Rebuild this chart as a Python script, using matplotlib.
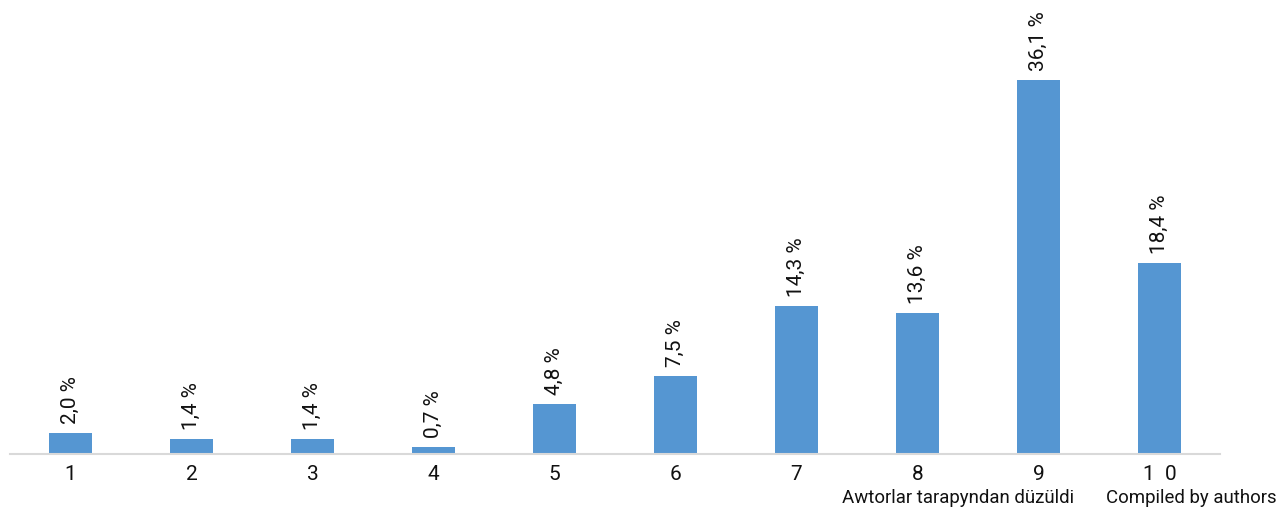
import numpy as np
import matplotlib.pyplot as plt

plt.rcParams['font.family'] = ['Roboto', 'DejaVu Sans']

categories = ['1', '2', '3', '4', '5', '6', '7', '8', '9', '1  0']
values = [2.0, 1.4, 1.4, 0.7, 4.8, 7.5, 14.3, 13.6, 36.1, 18.4]
labels = ['2,0 %', '1,4 %', '1,4 %', '0,7 %', '4,8 %', '7,5 %', '14,3 %', '13,6 %', '36,1 %', '18,4 %']

fig = plt.figure(figsize=(12.87, 5.09), dpi=100)
ax = fig.add_axes([10 / 1287, 55 / 509, 1210 / 1287, 444 / 509])

x = np.arange(len(values))
ax.bar(x, values, width=0.36, color='#5596D2', zorder=2)

for xi, v, lab in zip(x, values, labels):
    ax.annotate(lab, (xi, v), xytext=(0, 6.5), textcoords='offset points',
                rotation=90, ha='center', va='bottom', fontsize=15, color='#111111')

ax.set_xlim(-0.5, 9.5)
ax.set_ylim(0, 42.86)
ax.set_xticks(x)
ax.set_xticklabels(categories, fontsize=15, color='#111111')
ax.tick_params(axis='x', length=0, pad=8)
ax.set_yticks([])
for s in ['top', 'right', 'left']:
    ax.spines[s].set_visible(False)
ax.spines['bottom'].set_color('#D9D9D9')
ax.spines['bottom'].set_linewidth(1.5)

fig.text(958 / 1287, 11 / 509, 'Awtorlar tarapyndan düzüldi', ha='center', va='center',
         fontsize=13.4, color='#111111')
fig.text(1191 / 1287, 11 / 509, 'Compiled by authors', ha='center', va='center',
         fontsize=13.4, color='#111111')

plt.savefig('out.png', dpi=100)
